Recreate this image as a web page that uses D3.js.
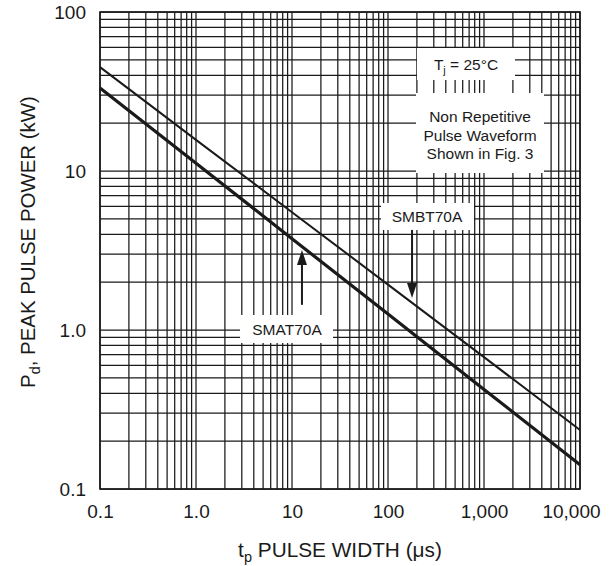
<!DOCTYPE html>
<html>
<head>
<meta charset="utf-8">
<script src="https://cdn.jsdelivr.net/npm/d3@7"></script>
<style>
  html, body { margin: 0; padding: 0; background: #fff; }
  svg { display: block; font-family: "Liberation Sans", Arial, sans-serif; }
</style>
</head>
<body>
<svg id="chart" width="615" height="566"></svg>
<script>
// ---- data ----
const pulseWidth = [0.1, 1, 10, 100, 1000, 10000];          // µs
const smbt70a    = [45, 15.7, 5.5, 1.93, 0.675, 0.235];     // kW
const smat70a    = [33.3, 11.2, 3.75, 1.26, 0.423, 0.142];  // kW
const xTickValues = [0.1, 1, 10, 100, 1000, 10000];
const xTickLabels = ["0.1", "1.0", "10", "100", "1,000", "10,000"];
const yTickValues = [0.1, 1, 10, 100];
const yTickLabels = ["0.1", "1.0", "10", "100"];

// ---- layout ----
const margin = {left: 100, top: 12, right: 35, bottom: 77};
const W = 615, H = 566;
const iw = W - margin.left - margin.right;   // 480
const ih = H - margin.top - margin.bottom;   // 477
const ink = "#1a1a1a";

const svg = d3.select("#chart");
const g = svg.append("g").attr("transform", `translate(${margin.left},${margin.top})`);

const x = d3.scaleLog().domain([0.1, 10000]).range([0, iw]);
const y = d3.scaleLog().domain([0.1, 100]).range([ih, 0]);

// grid
g.append("g").selectAll("line").data(x.ticks()).join("line")
  .attr("x1", d => x(d)).attr("x2", d => x(d)).attr("y1", 0).attr("y2", ih)
  .attr("stroke", ink).attr("stroke-width", 1.25);
g.append("g").selectAll("line").data(y.ticks()).join("line")
  .attr("y1", d => y(d)).attr("y2", d => y(d)).attr("x1", 0).attr("x2", iw)
  .attr("stroke", ink).attr("stroke-width", 1.25);
g.append("rect").attr("width", iw).attr("height", ih)
  .attr("fill", "none").attr("stroke", ink).attr("stroke-width", 1.6);

// series lines
const line = d3.line().x(d => x(d[0])).y(d => y(d[1]));
g.append("path").datum(d3.zip(pulseWidth, smbt70a)).attr("d", line)
  .attr("fill", "none").attr("stroke", ink).attr("stroke-width", 2);
g.append("path").datum(d3.zip(pulseWidth, smat70a)).attr("d", line)
  .attr("fill", "none").attr("stroke", ink).attr("stroke-width", 3.2);

// annotation boxes (white panels hiding the grid)
const boxes = [
  {x: 317, y: 36, w: 98, h: 32},
  {x: 316, y: 81, w: 128, h: 80},
  {x: 281, y: 191, w: 93, h: 27},
  {x: 140, y: 303, w: 93, h: 28}
];
g.append("g").selectAll("rect").data(boxes).join("rect")
  .attr("x", d => d.x).attr("y", d => d.y).attr("width", d => d.w).attr("height", d => d.h)
  .attr("fill", "#fff");

const fs = 15.5;
// Tj = 25°C
const tj = g.append("text").attr("x", 366).attr("y", 58).attr("text-anchor", "middle")
  .attr("font-size", fs).attr("fill", ink);
tj.append("tspan").text("T");
tj.append("tspan").attr("dy", 4).attr("font-size", fs * 0.7).text("j");
tj.append("tspan").attr("dy", -4).text(" = 25\u00B0C");

const note = ["Non Repetitive", "Pulse Waveform", "Shown in Fig. 3"];
g.append("g").selectAll("text").data(note).join("text")
  .attr("x", 380).attr("y", (d, i) => 110 + i * 18.5)
  .attr("text-anchor", "middle").attr("font-size", fs).attr("fill", ink).text(d => d);

g.append("text").attr("x", 327).attr("y", 209.5).attr("text-anchor", "middle")
  .attr("font-size", fs).attr("fill", ink).text("SMBT70A");
g.append("text").attr("x", 187).attr("y", 322.5).attr("text-anchor", "middle")
  .attr("font-size", fs).attr("fill", ink).text("SMAT70A");

// arrows (data coordinates)
const arrows = [
  {px: 178, from: 4.26, to: 1.59},
  {px: 12.7, from: 1.44, to: 3.18}
];
arrows.forEach(a => {
  const ax = x(a.px), y0 = y(a.from), y1 = y(a.to);
  const dir = y1 > y0 ? 1 : -1;
  const headL = 15, headW = 5;
  g.append("line").attr("x1", ax).attr("x2", ax).attr("y1", y0).attr("y2", y1 - dir * headL + dir * 1)
    .attr("stroke", ink).attr("stroke-width", 2);
  g.append("path")
    .attr("d", `M${ax},${y1} L${ax - headW},${y1 - dir * headL} L${ax + headW},${y1 - dir * headL} Z`)
    .attr("fill", ink);
});

// axes
const tickFs = 19;
const xAxis = d3.axisBottom(x).tickValues(xTickValues)
  .tickFormat((d, i) => xTickLabels[i]).tickSize(0).tickPadding(16);
const gx = g.append("g").attr("transform", `translate(0,${ih})`).call(xAxis);
gx.select(".domain").remove();
gx.selectAll("text").attr("font-size", tickFs).attr("fill", ink)
  .attr("font-family", "'Liberation Sans', Arial, sans-serif")
  .attr("dx", (d, i) => i === xTickLabels.length - 1 ? -9 : 0);

const yAxis = d3.axisLeft(y).tickValues(yTickValues)
  .tickFormat((d, i) => yTickLabels[i]).tickSize(0).tickPadding(14);
const gy = g.append("g").call(yAxis);
gy.select(".domain").remove();
gy.selectAll("text").attr("font-size", tickFs).attr("fill", ink)
  .attr("font-family", "'Liberation Sans', Arial, sans-serif");

// axis titles
function fitFont(sel, base, target) {
  const w = sel.node().getComputedTextLength();
  const f = base * target / w;
  sel.attr("font-size", f);
  sel.selectAll("tspan.sub").attr("font-size", f * 0.7);
  return f;
}
const xt = svg.append("text").attr("x", 340).attr("y", 557).attr("text-anchor", "middle")
  .attr("font-size", 18.5).attr("fill", ink);
xt.append("tspan").text("t");
xt.append("tspan").attr("class", "sub").attr("dy", 5).attr("font-size", 18.5 * 0.7).text("p");
xt.append("tspan").attr("dy", -5).text(" PULSE WIDTH (\u03BCs)");
fitFont(xt, 18.5, 204);

const yt = svg.append("text").attr("transform", "translate(35,242) rotate(-90)")
  .attr("text-anchor", "middle").attr("font-size", 18.5).attr("fill", ink);
yt.append("tspan").text("P");
yt.append("tspan").attr("class", "sub").attr("dy", 5).attr("font-size", 18.5 * 0.7).text("d");
yt.append("tspan").attr("dy", -5).text(", PEAK PULSE POWER (kW)");
fitFont(yt, 18.5, 292);
</script>
</body>
</html>
